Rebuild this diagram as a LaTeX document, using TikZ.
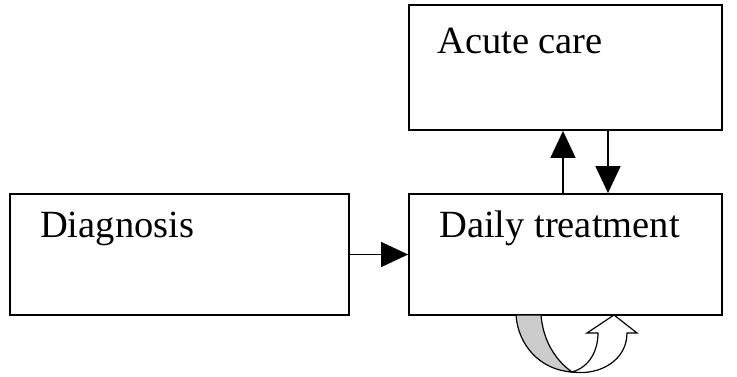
\documentclass[tikz,border=0pt]{standalone}
\usepackage{fontspec}
\setmainfont{Liberation Serif}
\usetikzlibrary{arrows.meta}
\begin{document}
\begin{tikzpicture}[x=1pt,y=-1pt,
  box/.style={draw=black,line width=1.8pt,minimum width=#1,minimum height=121pt,inner sep=0pt},
  lbl/.style={anchor=base west,inner sep=0pt,font=\fontsize{38.5}{40}\selectfont},
  arr/.style={line width=1.5pt,-{Triangle[length=27pt,width=25pt]}}]
\useasboundingbox (0,0) rectangle (737,376);
\node[box=339pt] (diag) at (179.5,254.5) {};
\node[box=313pt] (daily) at (565.5,254.5) {};
\node[box=313pt,minimum height=125pt] (acute) at (565.5,67.5) {};
\node[lbl] (tdiag) at (40,237) {Diagnosis};
\node[lbl] (tdaily) at (439,237) {Daily treatment};
\node[lbl] (tacute) at (437,53) {Acute care};
\draw[arr] (diag.east) -- (daily.west);
\draw[arr] (daily.north -| 563,0) -- (acute.south -| 563,0);
\draw[arr] (acute.south -| 608,0) -- (daily.north -| 608,0);
% self loop arrow
\draw[line width=1.2pt,fill=gray!40] (516,315) .. controls (518,345) and (540,370) .. (572,372)
   .. controls (555,360) and (543,340) .. (541,315) -- cycle;
\draw[line width=1.2pt,fill=white,line join=miter] (572,372) .. controls (590,367) and (598,350) .. (598,333)
   -- (587,333) -- (614,315) -- (637,333) -- (627,333)
   .. controls (627,360) and (600,376) .. (572,372) -- cycle;
\end{tikzpicture}
\end{document}
